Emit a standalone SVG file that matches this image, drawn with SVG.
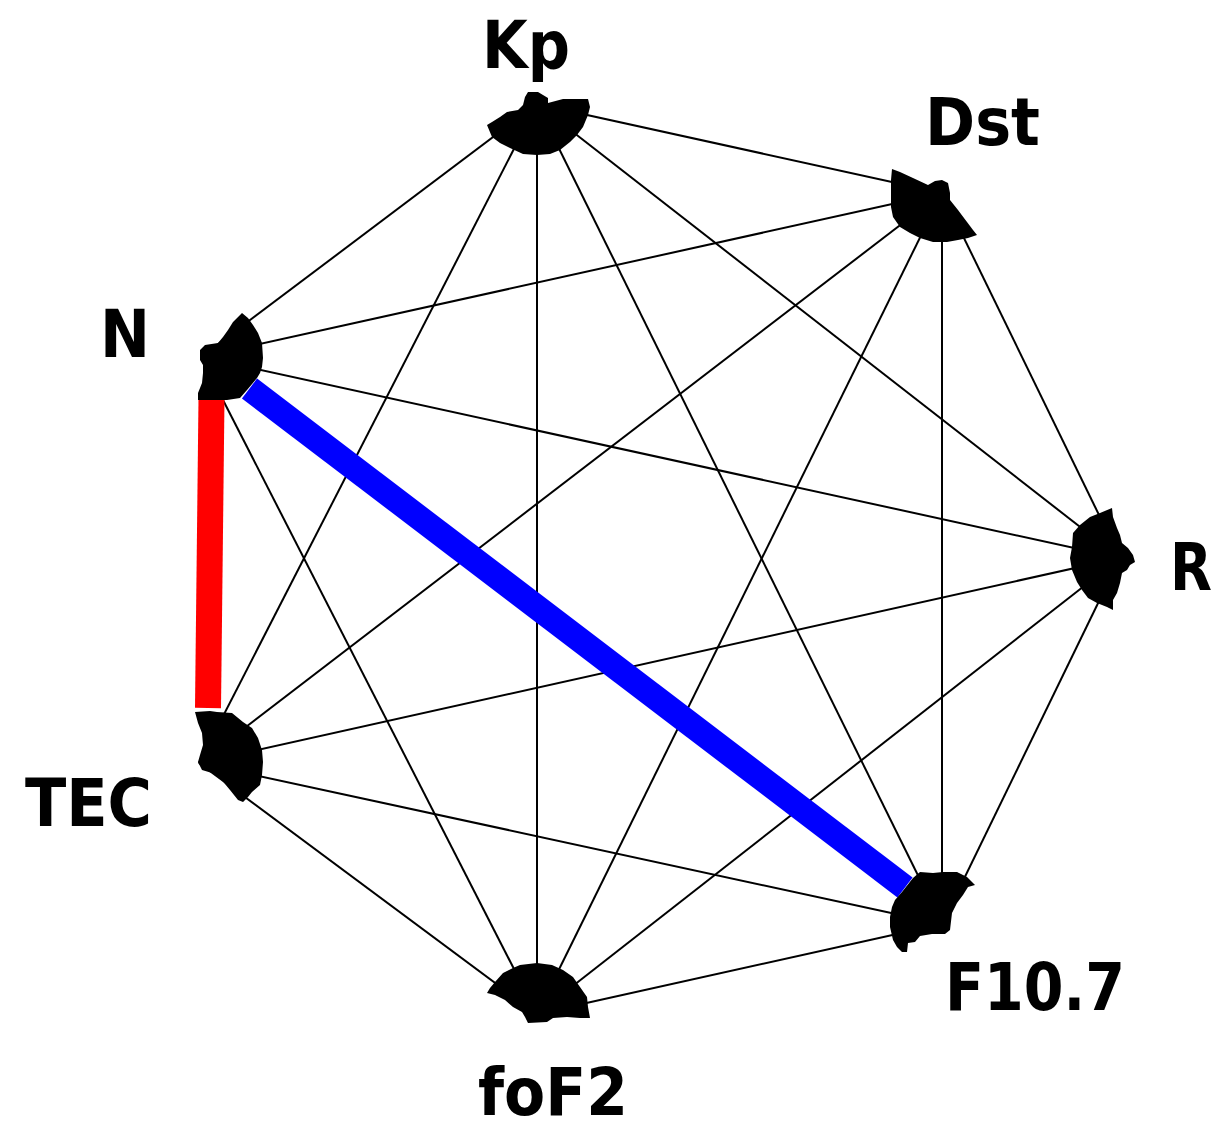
<svg xmlns="http://www.w3.org/2000/svg" width="1224" height="1122" viewBox="0 0 1224 1122">
<style>
.e{stroke:#000;stroke-width:2;fill:none}
.blob{fill:#000}
.lbl{font-family:"DejaVu Sans","Liberation Sans",sans-serif;font-weight:bold;font-size:66px;fill:#000}
</style>
<rect width="1224" height="1122" fill="#fff"/>
<g id="edges">
<line class="e" x1="537" y1="104" x2="942" y2="193"/>
<line class="e" x1="537" y1="104" x2="1120" y2="558"/>
<line class="e" x1="537" y1="104" x2="942" y2="924"/>
<line class="e" x1="537" y1="104" x2="537" y2="1014"/>
<line class="e" x1="537" y1="104" x2="199" y2="763"/>
<line class="e" x1="537" y1="104" x2="201" y2="357"/>
<line class="e" x1="942" y1="193" x2="1120" y2="558"/>
<line class="e" x1="942" y1="193" x2="942" y2="924"/>
<line class="e" x1="942" y1="193" x2="537" y2="1014"/>
<line class="e" x1="942" y1="193" x2="199" y2="763"/>
<line class="e" x1="942" y1="193" x2="201" y2="357"/>
<line class="e" x1="1120" y1="558" x2="942" y2="924"/>
<line class="e" x1="1120" y1="558" x2="537" y2="1014"/>
<line class="e" x1="1120" y1="558" x2="199" y2="763"/>
<line class="e" x1="1120" y1="558" x2="201" y2="357"/>
<line class="e" x1="942" y1="924" x2="537" y2="1014"/>
<line class="e" x1="942" y1="924" x2="199" y2="763"/>
<line class="e" x1="537" y1="1014" x2="199" y2="763"/>
<line class="e" x1="537" y1="1014" x2="201" y2="357"/>
<line x1="211.5" y1="398" x2="208" y2="708" stroke="#ff0000" stroke-width="26"/>
<line x1="249.5" y1="388.5" x2="905" y2="887.5" stroke="#0000ff" stroke-width="25"/>
</g>
<g id="node-Kp">
<path class="blob" d="M528,92 L538,92 L548,98 L548,103 L563,99 L588,99 L590,107 L588,115 L583,127 L577,135 L570,142 L560,150 L550,154 L537,155 L523,154 L510,148 L500,143 L492,137 L487,125 L492,122 L500,117 L507,112 L518,110 L523,105 L525,97 Z"/>
<text class="lbl" x="482" y="68" textLength="88" lengthAdjust="spacingAndGlyphs">Kp</text>
</g>
<g id="node-Dst">
<path class="blob" d="M892,169 L900,172 L913,178 L928,185 L935,181 L942,180 L948,183 L950,193 L950,200 L958,210 L967,222 L973,230 L977,235 L968,238 L958,240 L947,242 L933,242 L920,238 L910,233 L900,227 L893,217 L891,207 L891,193 L891,180 Z"/>
<text class="lbl" x="925" y="145" textLength="115" lengthAdjust="spacingAndGlyphs">Dst</text>
</g>
<g id="node-R">
<path class="blob" d="M1112,508 L1113,517 L1117,528 L1120,535 L1122,543 L1128,548 L1133,555 L1135,562 L1130,565 L1127,570 L1122,573 L1120,583 L1117,593 L1113,600 L1113,610 L1107,607 L1097,603 L1088,598 L1082,590 L1077,582 L1072,570 L1070,558 L1072,547 L1073,533 L1080,525 L1090,517 L1100,513 Z"/>
<text class="lbl" x="1170" y="590" textLength="42" lengthAdjust="spacingAndGlyphs">R</text>
</g>
<g id="node-F10.7">
<path class="blob" d="M920,872 L933,873 L943,872 L957,872 L967,877 L975,885 L968,887 L963,895 L957,903 L952,913 L950,930 L945,934 L932,934 L920,936 L915,942 L908,943 L907,952 L902,952 L897,947 L893,940 L890,927 L890,917 L892,907 L895,900 L902,892 L913,878 Z"/>
<text class="lbl" x="945" y="1010" textLength="180" lengthAdjust="spacingAndGlyphs">F10.7</text>
</g>
<g id="node-foF2">
<path class="blob" d="M520,965 L537,963 L552,965 L563,970 L573,977 L580,987 L587,997 L588,1007 L590,1018 L580,1018 L567,1017 L553,1018 L547,1022 L528,1023 L525,1017 L522,1012 L513,1007 L505,1000 L495,995 L487,993 L490,988 L495,982 L503,973 L513,968 Z"/>
<text class="lbl" x="478" y="1115" textLength="150" lengthAdjust="spacingAndGlyphs">foF2</text>
</g>
<g id="node-TEC">
<path class="blob" d="M195,712 L210,711 L217,712 L232,713 L243,722 L252,728 L258,738 L262,750 L263,762 L262,775 L260,785 L252,792 L248,797 L243,802 L238,800 L230,790 L220,778 L212,773 L202,770 L198,762 L200,755 L203,745 L202,733 L198,723 Z"/>
<text class="lbl" x="25" y="826" textLength="127" lengthAdjust="spacingAndGlyphs">TEC</text>
</g>
<g id="node-N">
<path class="blob" d="M242,313 L248,318 L253,325 L258,333 L262,343 L263,358 L262,367 L260,373 L257,378 L247,390 L240,398 L227,400 L198,400 L198,393 L202,383 L203,373 L203,365 L200,360 L200,350 L205,345 L218,343 L223,337 L228,330 L233,322 Z"/>
<text class="lbl" x="100" y="357" textLength="50" lengthAdjust="spacingAndGlyphs">N</text>
</g>
</svg>
